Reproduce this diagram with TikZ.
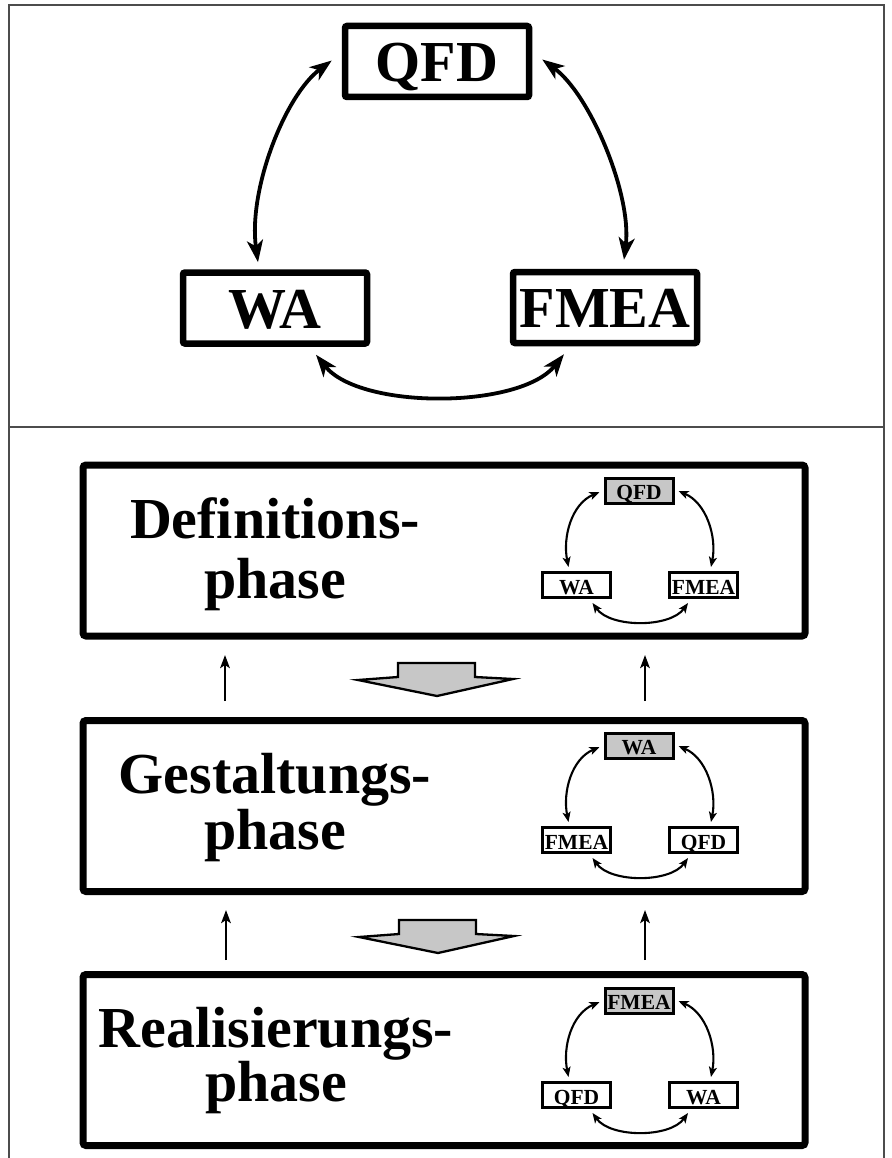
\documentclass[tikz,border=0pt]{standalone}
\usepackage{fontspec}
\setmainfont{Liberation Serif}
\usetikzlibrary{arrows.meta,calc}
\definecolor{boxgray}{gray}{0.78}
\definecolor{framegray}{gray}{0.3}
\newcommand{\minicycle}[5]{%
  \node[smallbox, fill=boxgray] (#1t) at (639,#2+25.5) {#3};
  \node[smallbox] (#1l) at (576.5,#2+120) {#4};
  \node[smallbox] (#1r) at (703.5,#2+120) {#5};
  \draw[smallarr] ($(#1t.west)+(-4,1.5)$) .. controls +(-28,12) and +(-6,-30) .. ($(#1l.north)+(-8,-4)$);
  \draw[smallarr] ($(#1t.east)+(4,0.5)$) .. controls +(28,12) and +(6,-30) .. ($(#1r.north)+(7.5,-4)$);
  \draw[smallarr] ($(#1l.south)+(16,4)$) .. controls +(18,25) and +(-18,25) .. ($(#1r.south)+(-15.5,4)$);
}
\begin{document}
\begin{tikzpicture}[x=1pt,y=-1pt,
  frame/.style={draw=framegray, line width=1.3pt},
  bigbox/.style={draw, line width=6.5pt, rounded corners=2pt, minimum width=184pt, minimum height=71pt,
    inner sep=0pt, text height=40pt, text depth=0pt, font=\fontsize{58}{60}\selectfont\bfseries},
  phasebox/.style={draw, line width=7pt, rounded corners=3pt, minimum width=722pt, minimum height=171pt, inner sep=0pt},
  phasetext/.style={anchor=base, inner sep=0pt, font=\fontsize{58}{60}\selectfont\bfseries},
  smallbox/.style={draw, line width=3pt, minimum width=68pt, minimum height=25pt,
    inner sep=0pt, text height=18pt, text depth=0pt, font=\fontsize{21.5}{23}\selectfont\bfseries},
  bigarr/.style={line width=3.8pt, {Stealth[length=22pt,width=16pt,inset=6pt]}-{Stealth[length=22pt,width=16pt,inset=6pt]}},
  smallarr/.style={line width=2.1pt, {Stealth[length=10pt,width=8pt,inset=2.5pt]}-{Stealth[length=10pt,width=8pt,inset=2.5pt]}},
  uparr/.style={line width=2.6pt, -{Stealth[length=13pt,width=9.5pt,inset=3pt]}},
  blockarrow/.style={draw, line width=2.3pt, fill=boxgray, line join=miter}
]
\useasboundingbox (0,0) rectangle (891,1158);
\fill[white] (0,0) rectangle (891,1158);
% outer frame
\draw[frame] (9,1165) -- (9,5) -- (884,5) -- (884,1165);
\draw[frame] (9,427) -- (884,427);

% top cycle
\node[bigbox] (qfd) at (437,61.5) {QFD};
\node[bigbox] (wa) at (275,308) {WA};
\node[bigbox] (fmea) at (605,307.5) {FMEA};
\draw[bigarr] ($(qfd.west)+(-10,-1)$) .. controls +(-47,35) and +(-10,-72) .. ($(wa.north)+(-17,-7)$);
\draw[bigarr] ($(qfd.east)+(10,-2)$) .. controls +(48,35) and +(8,-65) .. ($(fmea.north)+(19,-9)$);
\draw[bigarr] ($(wa.south)+(41,8)$) .. controls +(44,55) and +(-44,55) .. ($(fmea.south)+(-41,8)$);

% phase boxes
\node[phasebox] (def) at (444,550.5) {};
\node[phasebox] (gest) at (444,806) {};
\node[phasebox] (real) at (444,1060) {};

\node[phasetext] (def1) at (275,538) {Definitions-};
\node[phasetext] (def2) at (275,598) {phase};
\node[phasetext] (gest1) at (275,793) {Gestaltungs-};
\node[phasetext] (gest2) at (275,849) {phase};
\node[phasetext] (real1) at (276,1047) {Realisierungs-};
\node[phasetext] (real2) at (276,1101) {phase};

\minicycle{a}{465}{QFD}{WA}{FMEA}
\minicycle{b}{720}{WA}{FMEA}{QFD}
\minicycle{c}{975}{FMEA}{QFD}{WA}

% thin up arrows
\coordinate (u1s) at (225,701);
\coordinate (u1e) at (225,655);
\coordinate (u2s) at (645,701);
\coordinate (u2e) at (645,655);
\coordinate (u3s) at (226,960);
\coordinate (u3e) at (226,910);
\coordinate (u4s) at (645,960);
\coordinate (u4e) at (645,910);
\draw[uparr] (u1s) -- (u1e);
\draw[uparr] (u2s) -- (u2e);
\draw[uparr] (u3s) -- (u3e);
\draw[uparr] (u4s) -- (u4e);

% block arrows
\draw[blockarrow] (398,663) -- (475,663) -- (475,677) -- (513,679) -- (437,696) -- (358,680) -- (398,677) -- cycle;
\draw[blockarrow, shift={(1,257)}] (398,663) -- (475,663) -- (475,677) -- (513,679) -- (437,696) -- (358,680) -- (398,677) -- cycle;
\end{tikzpicture}
\end{document}
